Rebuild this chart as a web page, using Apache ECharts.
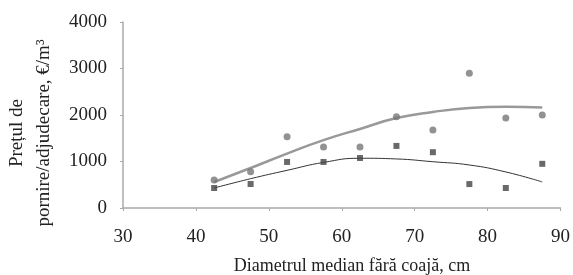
<!DOCTYPE html>
<html><head><meta charset="utf-8">
<script src="https://cdn.jsdelivr.net/npm/echarts@6/dist/echarts.min.js"></script>
<style>html,body{margin:0;padding:0;background:#fff}#c{width:573px;height:275px}</style>
</head><body><div id="c"></div>
<script>
const diameters = [42.5, 47.5, 52.5, 57.5, 62.5, 67.5, 72.5, 77.5, 82.5, 87.5];
const pornire = [600, 780, 1530, 1310, 1310, 1960, 1680, 2900, 1935, 2000];
const adjudecare = [430, 516, 990, 990, 1075, 1335, 1200, 515, 430, 950];
const trendPornire = [560, 860, 1170, 1460, 1700, 1935, 2065, 2150, 2175, 2160];
const trendAdjudecare = [430, 630, 810, 980, 1070, 1055, 995, 925, 775, 560];
const xTicks = [30, 40, 50, 60, 70, 80, 90];
const yTicks = [0, 1000, 2000, 3000, 4000];
const xTitle = 'Diametrul median fără coajă, cm';
const yTitle = 'Prețul de\npornire/adjudecare, €/m³';

const pairs = v => diameters.map((d, i) => [d, v[i]]);
const font = 'Liberation Serif';
const chart = echarts.init(document.getElementById('c'));
chart.setOption({
  animation: false,
  grid: {left: 123, right: 10, top: 22, bottom: 67},
  xAxis: {
    type: 'value', min: xTicks[0], max: xTicks[xTicks.length - 1], interval: 10,
    splitLine: {show: false},
    axisLine: {lineStyle: {color: '#aaa', width: 1.5}},
    axisTick: {show: true, length: 3, lineStyle: {color: '#aaa'}},
    axisLabel: {color: '#222', fontFamily: font, fontSize: 19, margin: 20,
                formatter: v => String(v)}
  },
  yAxis: {
    type: 'value', min: yTicks[0], max: yTicks[yTicks.length - 1], interval: 1000,
    splitLine: {show: false},
    axisLine: {show: true, lineStyle: {color: '#aaa', width: 1.5}},
    axisTick: {show: true, length: 3, lineStyle: {color: '#aaa'}},
    axisLabel: {color: '#222', fontFamily: font, fontSize: 19, margin: 16,
                formatter: v => String(v)}
  },
  graphic: [
    {type: 'text', x: 352, y: 266,
     style: {text: xTitle, fill: '#222', font: '18px "Liberation Serif"',
             textAlign: 'center', textVerticalAlign: 'middle'}},
    {type: 'text', x: 31, y: 133, rotation: Math.PI / 2,
     style: {text: yTitle, fill: '#222', font: '19px "Liberation Serif"',
             lineHeight: 27, textAlign: 'center', textVerticalAlign: 'middle'}}
  ],
  series: [
    {type: 'line', data: pairs(trendPornire), smooth: true, symbol: 'none',
     lineStyle: {color: '#999', width: 2.5}, z: 1},
    {type: 'line', data: pairs(trendAdjudecare), smooth: true, symbol: 'none',
     lineStyle: {color: '#333', width: 1}, z: 1},
    {type: 'scatter', data: pairs(pornire), symbol: 'circle', symbolSize: 7,
     itemStyle: {color: '#777'}, z: 3},
    {type: 'scatter', data: pairs(adjudecare), symbol: 'rect', symbolSize: 6,
     itemStyle: {color: '#444'}, z: 3}
  ]
});
</script></body></html>
